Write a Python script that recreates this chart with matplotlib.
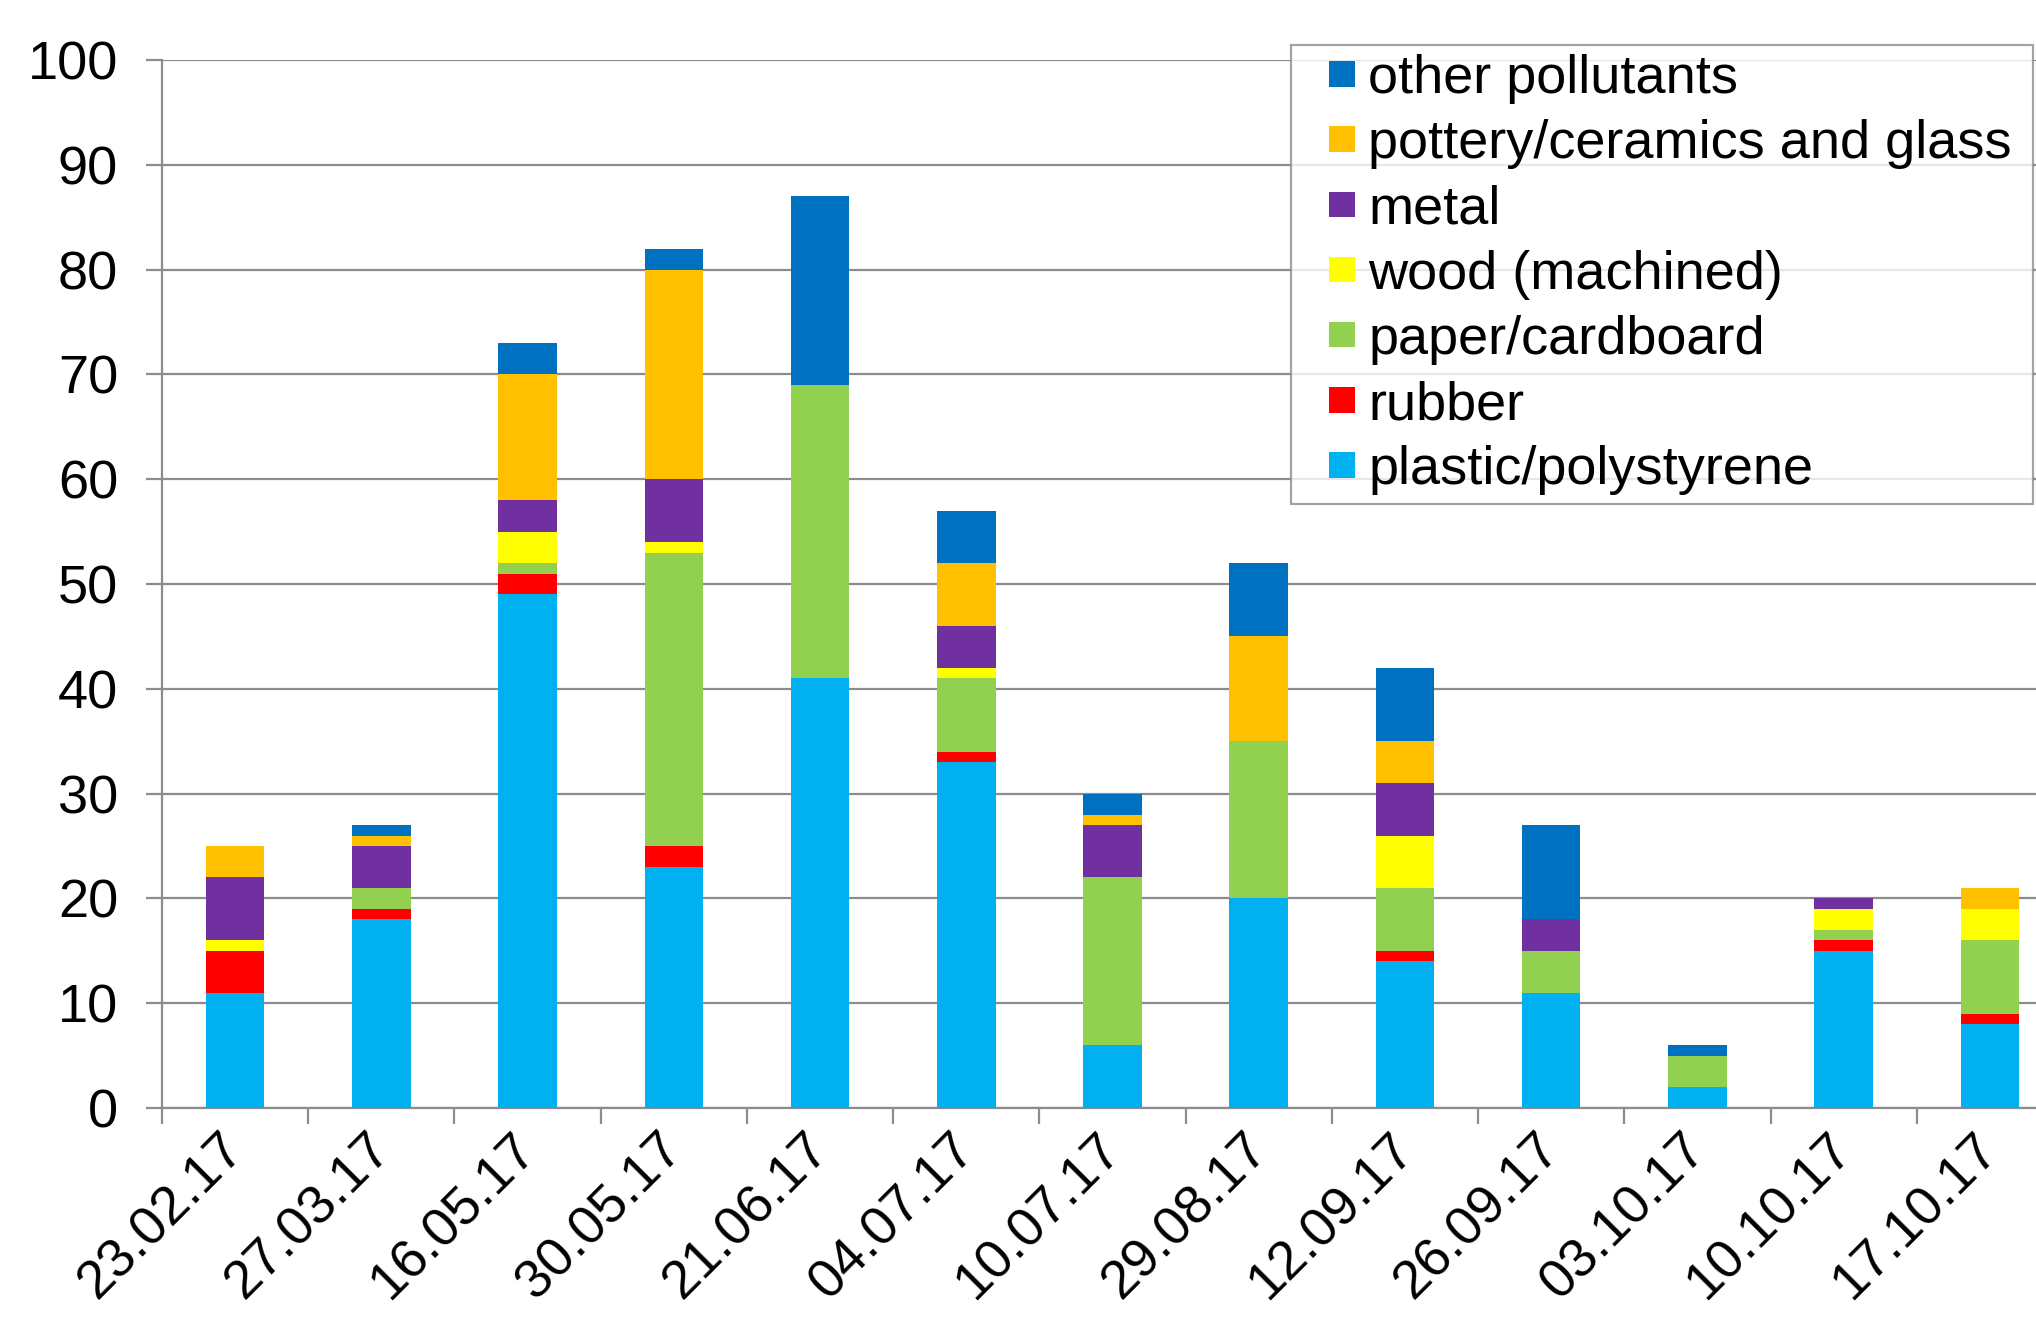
import matplotlib
matplotlib.use("Agg")
import matplotlib.pyplot as plt
import matplotlib.patches as mpatches
from matplotlib.legend_handler import HandlerPatch
import numpy as np

plt.rcParams['font.family'] = ['Liberation Sans', 'DejaVu Sans']

dates = ["23.02.17", "27.03.17", "16.05.17", "30.05.17", "21.06.17", "04.07.17",
         "10.07.17", "29.08.17", "12.09.17", "26.09.17", "03.10.17", "10.10.17", "17.10.17"]

plastic = [11, 18, 49, 23, 41, 33, 6, 20, 14, 11, 2, 15, 8]
rubber  = [4, 1, 2, 2, 0, 1, 0, 0, 1, 0, 0, 1, 1]
paper   = [0, 2, 1, 28, 28, 7, 16, 15, 6, 4, 3, 1, 7]
wood    = [1, 0, 3, 1, 0, 1, 0, 0, 5, 0, 0, 2, 3]
metal   = [6, 4, 3, 6, 0, 4, 5, 0, 5, 3, 0, 1, 0]
pottery = [3, 1, 12, 20, 0, 6, 1, 10, 4, 0, 0, 0, 2]
other   = [0, 1, 3, 2, 18, 5, 2, 7, 7, 9, 1, 0, 0]

series_names = ["plastic/polystyrene", "rubber", "paper/cardboard", "wood (machined)",
                "metal", "pottery/ceramics and glass", "other pollutants"]
series_vals = [plastic, rubber, paper, wood, metal, pottery, other]
colors = ["#00B0F0", "#FF0000", "#92D050", "#FFFF00", "#7030A0", "#FFC000", "#0070C0"]

yticks = [0, 10, 20, 30, 40, 50, 60, 70, 80, 90, 100]

FS = 39
W, H = 2036, 1325
fig = plt.figure(figsize=(W / 100, H / 100), dpi=100)
left, right, top, bottom = 162, 2063, 60, 1108
ax = fig.add_axes([left / W, 1 - bottom / H, (right - left) / W, (bottom - top) / H])

x = np.arange(len(dates))
base = np.zeros(len(dates))
handles = []
for name, vals, c in zip(series_names, series_vals, colors):
    v = np.array(vals, dtype=float)
    b = ax.bar(x, v, bottom=base, width=0.4, color=c, label=name, linewidth=0, zorder=3)
    handles.append(b.patches[0])
    base += v

grid_c = "#8C8C8C"
ax.set_xlim(-0.5, len(dates) - 0.5)
ax.set_ylim(0, 100)
ax.set_yticks(yticks)
ax.yaxis.grid(True, color=grid_c, linewidth=1.6, zorder=0)
ax.set_axisbelow(True)
for s in ["top", "right"]:
    ax.spines[s].set_visible(False)
for s in ["left", "bottom"]:
    ax.spines[s].set_color(grid_c)
    ax.spines[s].set_linewidth(1.6)

ax.tick_params(axis='y', length=11.5, width=1.6, color=grid_c, pad=20, labelsize=FS)
ax.set_xticks(x)
ax.set_xticklabels([])
ax.tick_params(axis='x', which='major', length=0)
ax.set_xticks(np.arange(-0.5, len(dates), 1.0), minor=True)
ax.tick_params(axis='x', which='minor', length=11.5, width=1.6, color=grid_c)

for xi, lab in zip(x, dates):
    ax.annotate(lab, xy=(xi, 0), xycoords=('data', 'axes fraction'),
                xytext=(1, -24), textcoords='offset points',
                rotation=45, ha='right', va='center', rotation_mode='anchor',
                fontsize=FS)


def square_patch(legend, orig_handle, xdescent, ydescent, width, height, fontsize):
    s = 0.47 * fontsize
    return mpatches.Rectangle((width - s - xdescent, height / 2 - s / 2 - ydescent), s, s)


hmap = {h: HandlerPatch(patch_func=square_patch) for h in handles}
leg_h = 0.3
leg = fig.legend(handles[::-1], series_names[::-1], loc='upper left',
                 bbox_to_anchor=(1291 / W, 1 - 45 / H - leg_h, (2033 - 1291) / W, leg_h),
                 mode='expand', borderaxespad=0, fontsize=FS,
                 handler_map=hmap,
                 handlelength=1.01, handleheight=0.5, handletextpad=0.25,
                 labelspacing=0.28, borderpad=0.17, frameon=True, fancybox=False)
leg.get_frame().set_edgecolor(grid_c)
leg.get_frame().set_linewidth(1.6)

fig.savefig("out.png", dpi=100)
